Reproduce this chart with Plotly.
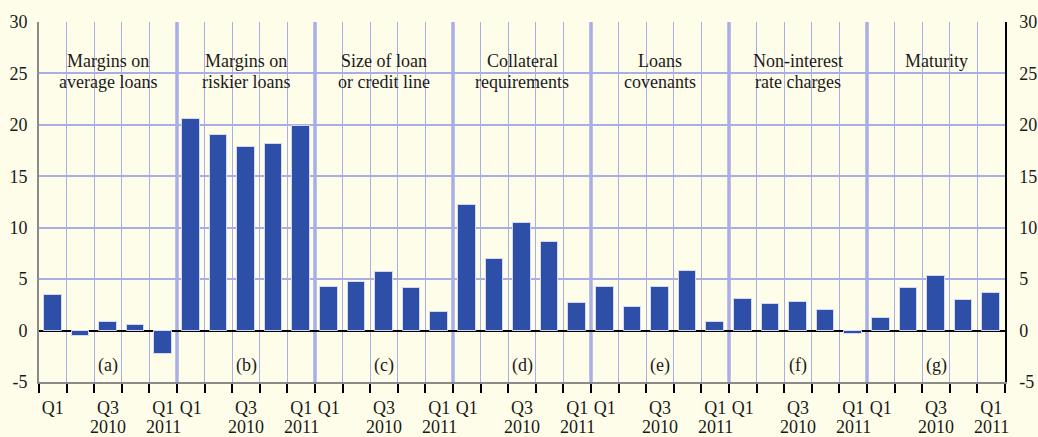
import plotly.graph_objects as go

# ---- data ----
groups = ["Margins on<br>average loans", "Margins on<br>riskier loans", "Size of loan<br>or credit line",
          "Collateral<br>requirements", "Loans<br>covenants", "Non-interest<br>rate charges", "Maturity"]
panel_letters = ["(a)", "(b)", "(c)", "(d)", "(e)", "(f)", "(g)"]
v_a = [3.5, -0.5, 0.8, 0.5, -2.3]
v_b = [20.6, 19.0, 17.8, 18.1, 19.9]
v_c = [4.2, 4.7, 5.7, 4.1, 1.8]
v_d = [12.2, 7.0, 10.5, 8.6, 2.7]
v_e = [4.2, 2.3, 4.2, 5.8, 0.8]
v_f = [3.1, 2.6, 2.8, 2.0, -0.3]
v_g = [1.2, 4.1, 5.3, 3.0, 3.7]
series = [v_a, v_b, v_c, v_d, v_e, v_f, v_g]
quarter_labels = ["Q1", "", "Q3", "", "Q1"]
year_labels = ["", "", "2010", "", "2011"]
y_ticks = [-5, 0, 5, 10, 15, 20, 25, 30]
y_ticktext = ["-5", "0", "5", "10", "15", "20", "25", "30"]

# ---- styles ----
BG = "#fefde9"
BLUE = "#2e4fa8"
LAV = "#a9aee6"
FONT = "Liberation Serif"
TXT = "#1a1a1a"

n_per = len(quarter_labels)
values = [v for s in series for v in s]
xs = list(range(len(values)))
n = len(values)

fig = go.Figure()
fig.add_trace(go.Bar(x=xs, y=values, width=0.64, marker=dict(color=BLUE, line=dict(color="#d4d8f4", width=1)),
                     showlegend=False, hoverinfo="y"))

centers = xs
ticktext = [quarter_labels[i % n_per] for i in xs]
boundaries = [i - 0.5 for i in range(n + 1)]

shapes = []
for g in range(1, len(groups)):
    xb = g * n_per - 0.5
    shapes.append(dict(type="line", xref="x", yref="paper", x0=xb, x1=xb, y0=0, y1=1,
                       line=dict(color=LAV, width=3.5), layer="below"))

annotations = []
for g, name in enumerate(groups):
    cx = g * n_per + (n_per - 1) / 2
    lines = name.split("<br>")
    ys = [26.2, 24.2]
    for li, t in enumerate(lines):
        annotations.append(dict(x=cx, y=ys[li], xref="x", yref="y", text=t, showarrow=False,
                                font=dict(family=FONT, size=18, color=TXT)))
    annotations.append(dict(x=cx, y=-3.4, xref="x", yref="y", text=panel_letters[g], showarrow=False,
                            font=dict(family=FONT, size=18, color=TXT)))
for i in xs:
    yl = year_labels[i % n_per]
    if yl:
        annotations.append(dict(x=i, y=0, xref="x", yref="paper", yanchor="middle", yshift=-45,
                                text=yl, showarrow=False, font=dict(family=FONT, size=18, color=TXT)))

fig.update_layout(
    width=1038, height=437,
    margin=dict(l=38.5, r=32.5, t=22, b=55),
    paper_bgcolor=BG, plot_bgcolor=BG,
    bargap=0,
    shapes=shapes, annotations=annotations,
    xaxis=dict(range=[-0.5, n - 0.5], tickmode="array", tickvals=boundaries, showticklabels=False,
               ticks="outside", ticklen=9, tickcolor="black", tickwidth=1.5,
               showgrid=True, gridcolor=LAV, gridwidth=1, automargin=False,
               showline=True, linecolor="#8a8a8a", linewidth=2, zeroline=False),
    xaxis2=dict(range=[-0.5, n - 0.5], overlaying="x", side="bottom", anchor="y",
                tickmode="array", tickvals=centers, ticktext=ticktext, ticks="", tickangle=0,
                showgrid=False, showline=False, zeroline=False, ticklabelstandoff=13, automargin=False,
                tickfont=dict(family=FONT, size=18, color=TXT)),
    yaxis=dict(range=[-5, 30], tickmode="array", tickvals=y_ticks, ticktext=y_ticktext, ticks="",
               showgrid=True, gridcolor=LAV, gridwidth=1.5, automargin=False,
               zeroline=True, zerolinecolor="black", zerolinewidth=1.5,
               showline=True, linecolor="#8a8a8a", linewidth=2, ticklabelstandoff=6,
               tickfont=dict(family=FONT, size=18, color=TXT)),
    yaxis2=dict(range=[-5, 30], overlaying="y", side="right", tickmode="array", tickvals=y_ticks,
                ticktext=y_ticktext, automargin=False,
                ticks="", showgrid=False, zeroline=False, showline=True, linecolor="black", linewidth=1.5,
                ticklabelstandoff=9, tickfont=dict(family=FONT, size=18, color=TXT)),
)

fig.add_trace(go.Scatter(x=[0], y=[0], xaxis="x2", yaxis="y2", mode="markers",
                         marker=dict(opacity=0), showlegend=False, hoverinfo="skip"))

fig.write_html("out.html", config={"displayModeBar": False},
               post_script="document.body.style.margin='0';document.body.style.background='%s';" % BG)
